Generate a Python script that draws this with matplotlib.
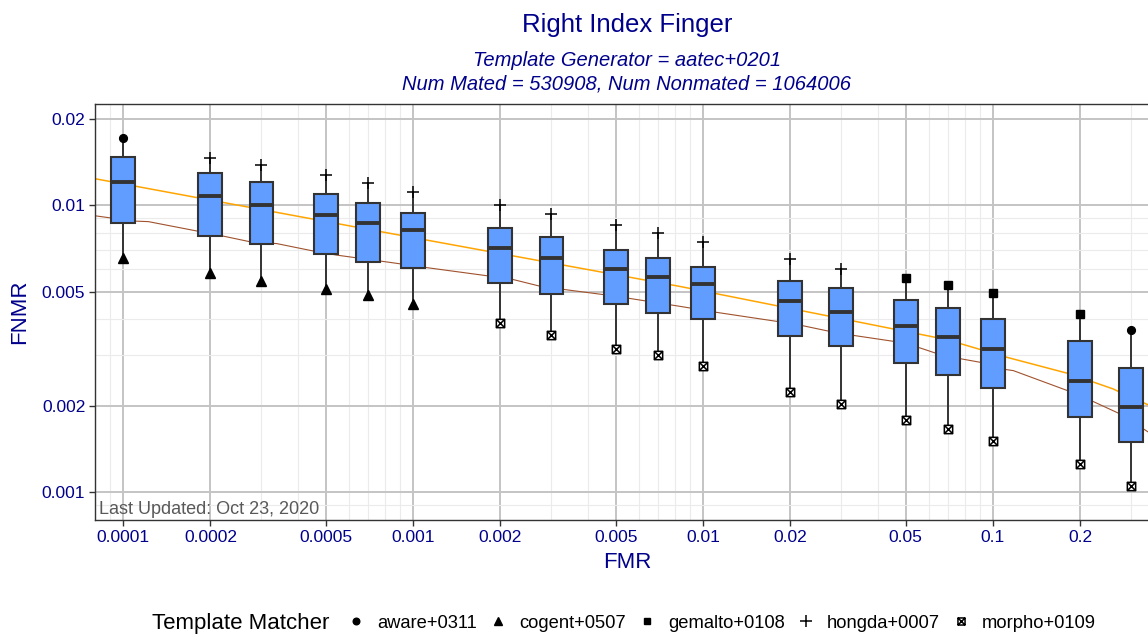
import matplotlib
matplotlib.use("Agg")
import matplotlib.pyplot as plt
from matplotlib.patches import Rectangle
from matplotlib.lines import Line2D
from matplotlib.path import Path
from matplotlib.ticker import FixedLocator, LogLocator, NullFormatter

plt.rcParams['font.family'] = ['Liberation Sans', 'DejaVu Sans']

# box summaries at each FMR threshold (five matchers -> min, q1, median, q3, max)
fmr_levels = [0.0001, 0.0002, 0.0003, 0.0005, 0.0007, 0.001, 0.002, 0.003, 0.005,
              0.007, 0.01, 0.02, 0.03, 0.05, 0.07, 0.1, 0.2, 0.3]
fnmr_min = [0.00653, 0.00582, 0.00544, 0.00509, 0.00485, 0.00454, 0.00387, 0.00353, 0.00316,
            0.00301, 0.00274, 0.00224, 0.00203, 0.00178, 0.00166, 0.00150, 0.00125, 0.00105]
fnmr_q1 = [0.00865, 0.00781, 0.00730, 0.00674, 0.00635, 0.00606, 0.00537, 0.00492, 0.00451,
           0.00422, 0.00400, 0.00351, 0.00322, 0.00282, 0.00256, 0.00230, 0.00183, 0.00149]
fnmr_med = [0.01201, 0.01078, 0.01006, 0.00923, 0.00867, 0.00820, 0.00711, 0.00656, 0.00597,
            0.00563, 0.00530, 0.00463, 0.00426, 0.00380, 0.00348, 0.00314, 0.00243, 0.00198]
fnmr_q3 = [0.01468, 0.01294, 0.01210, 0.01093, 0.01016, 0.00943, 0.00831, 0.00774, 0.00698,
           0.00653, 0.00609, 0.00544, 0.00513, 0.00469, 0.00439, 0.00400, 0.00335, 0.00270]
fnmr_max = [0.01715, 0.01460, 0.01384, 0.01273, 0.01194, 0.01116, 0.01000, 0.00930, 0.00851,
            0.00800, 0.00746, 0.00651, 0.00601, 0.00557, 0.00526, 0.00494, 0.00419, 0.00366]
min_matcher = ['cogent+0507'] * 6 + ['morpho+0109'] * 12
max_matcher = ['aware+0311'] + ['hongda+0007'] * 12 + ['gemalto+0108'] * 4 + ['aware+0311']

# DET curves
orange_fmr = [8.0e-5, 8.33e-4, 8.33e-3, 0.0692, 0.1115, 0.1843, 0.260, 0.2779, 0.3424, 0.3796]
orange_fnmr = [0.01238, 0.00798, 0.00521, 0.00340, 0.00295, 0.00258, 0.002286, 0.002214, 0.002014, 0.00192]
brown_fmr = [8.07e-5, 1.085e-4, 1.222e-4, 2.21e-4, 2.74e-4, 3.39e-4, 4.42e-4, 5.46e-4, 8.33e-4,
             1.115e-3, 1.84e-3, 2.21e-3, 2.74e-3, 3.39e-3, 4.53e-3, 5.6e-3, 8.33e-3, 0.01115,
             0.01843, 0.0221, 0.0274, 0.0334, 0.0465, 0.056, 0.064, 0.078, 0.0926, 0.1115,
             0.1175, 0.1843, 0.221, 0.2779, 0.3424, 0.3796]
brown_fnmr = [0.00918, 0.00881, 0.00877, 0.00781, 0.00746, 0.00735, 0.00696, 0.00670, 0.00632,
              0.00606, 0.00566, 0.00551, 0.00522, 0.00507, 0.00488, 0.00473, 0.00444, 0.00423,
              0.00392, 0.00380, 0.00363, 0.00351, 0.00334, 0.00318, 0.00304, 0.00291, 0.00282,
              0.00267, 0.00265, 0.00224, 0.00207, 0.00186, 0.00162, 0.00154]

x_ticks = [0.0001, 0.0002, 0.0005, 0.001, 0.002, 0.005, 0.01, 0.02, 0.05, 0.1, 0.2]
x_labels = ['0.0001', '0.0002', '0.0005', '0.001', '0.002', '0.005', '0.01', '0.02', '0.05', '0.1', '0.2']
y_ticks = [0.001, 0.002, 0.005, 0.01, 0.02]
y_labels = ['0.001', '0.002', '0.005', '0.01', '0.02']

navy = '#00008B'
dark = '#333333'

# square with a cross inside (R pch 7)
sqx = Path([(-1, -1), (1, -1), (1, 1), (-1, 1), (-1, -1), (-1, -1), (1, 1), (-1, 1), (1, -1)],
           [Path.MOVETO, Path.LINETO, Path.LINETO, Path.LINETO, Path.LINETO, Path.CLOSEPOLY,
            Path.LINETO, Path.MOVETO, Path.LINETO])
markers = {
    'aware+0311': dict(marker='o', ms=5.6, mfc='black', mec='black'),
    'cogent+0507': dict(marker='^', ms=7, mfc='black', mec='black'),
    'gemalto+0108': dict(marker='s', ms=5.6, mfc='black', mec='black'),
    'hongda+0007': dict(marker='+', ms=9, mew=1.1, mec='black'),
    'morpho+0109': dict(marker=sqx, ms=6, mfc='white', mec='black', mew=1.1),
}

fig = plt.figure(figsize=(11.48, 6.35), dpi=100)
ax = fig.add_axes([95 / 1148, 115 / 635, 1064.4 / 1148, 416 / 635])
ax.set_xscale('log')
ax.set_yscale('log')
ax.set_xlim(8.0e-5, 0.375)
ax.set_ylim(0.000798, 0.02256)

ax.plot(orange_fmr, orange_fnmr, color='#FFA500', lw=1.1, zorder=2)
ax.plot(brown_fmr, brown_fnmr, color='#A0522D', lw=0.8, zorder=2)

hw = 0.041  # half box width in decades
for i, f in enumerate(fmr_levels):
    lo, hi = f * 10 ** -hw, f * 10 ** hw
    ax.plot([f, f], [fnmr_q3[i], fnmr_max[i]], color=dark, lw=1.4, zorder=3)
    ax.plot([f, f], [fnmr_min[i], fnmr_q1[i]], color=dark, lw=1.4, zorder=3)
    ax.add_patch(Rectangle((lo, fnmr_q1[i]), hi - lo, fnmr_q3[i] - fnmr_q1[i],
                           facecolor='#619CFF', edgecolor=dark, lw=1.5, zorder=3))
    ax.plot([lo, hi], [fnmr_med[i], fnmr_med[i]], color=dark, lw=2.8,
            solid_capstyle='butt', zorder=4)
    ax.plot([f], [fnmr_min[i]], ls='none', zorder=5, **markers[min_matcher[i]])
    ax.plot([f], [fnmr_max[i]], ls='none', zorder=5, **markers[max_matcher[i]])

ax.xaxis.set_major_locator(FixedLocator(x_ticks))
ax.set_xticklabels(x_labels)
ax.yaxis.set_major_locator(FixedLocator(y_ticks))
ax.set_yticklabels(y_labels)
for axis in (ax.xaxis, ax.yaxis):
    axis.set_minor_locator(LogLocator(base=10, subs=(3, 4, 6, 7, 8, 9), numticks=50))
    axis.set_minor_formatter(NullFormatter())
ax.grid(which='major', color='#c4c4c4', lw=1.4)
ax.grid(which='minor', color='#ebebeb', lw=0.8)
ax.set_axisbelow(True)
ax.tick_params(which='major', length=4, width=1, color=dark, labelcolor=navy,
               labelsize=12.5, pad=3)
ax.tick_params(which='minor', length=0)
for s in ax.spines.values():
    s.set_color(dark)
    s.set_linewidth(1)

ax.text(0.004, 0.004, 'Last Updated: Oct 23, 2020', transform=ax.transAxes,
        ha='left', va='bottom', fontsize=13, color='#595959')

fig.text(627 / 1148, 1 - 25 / 635, 'Right Index Finger', ha='center', va='center',
         fontsize=18.5, color=navy)
fig.text(627 / 1148, 1 - 61 / 635, 'Template Generator = aatec+0201', ha='center',
         va='center', fontsize=14.5, style='italic', color=navy)
fig.text(627 / 1148, 1 - 84 / 635, 'Num Mated = 530908, Num Nonmated = 1064006',
         ha='center', va='center', fontsize=14.5, style='italic', color=navy)
fig.text(20 / 1148, 1 - 312 / 635, 'FNMR', rotation=90, ha='center', va='center',
         fontsize=16, color=navy)
fig.text(627 / 1148, 1 - 563 / 635, 'FMR', ha='center', va='center', fontsize=16, color=navy)

# legend
fig.text(152 / 1148, 1 - 623 / 635, 'Template Matcher', ha='left', va='center', fontsize=16)
handles = []
for name, st in markers.items():
    st = dict(st)
    if name != 'hongda+0007':
        st['ms'] = st['ms'] * 0.85
    handles.append(Line2D([], [], ls='none', label=name, **st))
fig.legend(handles=handles, loc='center left', bbox_to_anchor=(347 / 1148, 1 - 623 / 635),
           ncol=5, frameon=False, fontsize=13.2, handlelength=1.0, handletextpad=0.65,
           columnspacing=0.65, borderaxespad=0, borderpad=0)

fig.savefig('out.png', dpi=100)
